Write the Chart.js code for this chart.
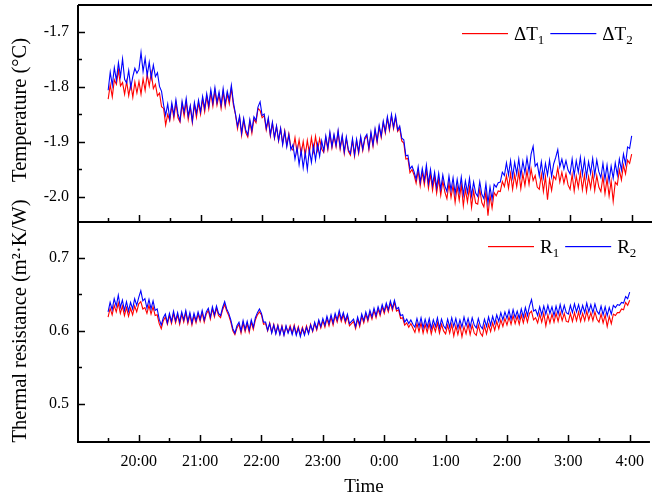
<!DOCTYPE html>
<html>
<head>
<meta charset="utf-8">
<script src="https://cdn.jsdelivr.net/npm/chart.js@4.4.1/dist/chart.umd.min.js"></script>
<style>
    html, body { margin: 0; padding: 0; background: #fff; overflow: hidden; }
    #wrap { position: relative; width: 654px; height: 501px; overflow: hidden; }
    #topBox { position: absolute; left: 0; top: -30px; width: 654px; height: 282px; }
    #botBox { position: absolute; left: 0; top: 180px; width: 654px; height: 321px; }
</style>
</head>
<body>
<div id="wrap">
    <div id="topBox"><canvas id="tempChart"></canvas></div>
    <div id="botBox"><canvas id="resChart"></canvas></div>
</div>
<script>
// Sampling: one reading every 2 minutes, starting 19:30
const startHour = 19.5;
const stepMinutes = 2;

// Time axis (hours, 24 = 0:00 of the next day)
const hourTicks = [20, 21, 22, 23, 24, 25, 26, 27, 28];
const hourLabels = ['20:00', '21:00', '22:00', '23:00', '0:00', '1:00', '2:00', '3:00', '4:00'];

const tempTicks = [-2.0, -1.9, -1.8, -1.7];
const tempLabels = ['-2.0', '-1.9', '-1.8', '-1.7'];
const resTicks = [0.5, 0.6, 0.7];
const resLabels = ['0.5', '0.6', '0.7'];

// ΔT1 (red), one row per half hour
const dT1 = [
    -1.822, -1.796, -1.818, -1.787, -1.795, -1.769, -1.798, -1.792, -1.813, -1.790, -1.816, -1.794, -1.819, -1.791, -1.811,
    -1.790, -1.813, -1.785, -1.806, -1.777, -1.798, -1.774, -1.803, -1.795, -1.816, -1.811, -1.836, -1.839, -1.869, -1.850,
    -1.861, -1.834, -1.857, -1.829, -1.856, -1.864, -1.831, -1.853, -1.827, -1.859, -1.836, -1.865, -1.832, -1.855, -1.829,
    -1.850, -1.822, -1.845, -1.817, -1.840, -1.811, -1.835, -1.807, -1.833, -1.814, -1.839, -1.809, -1.836, -1.813, -1.831,
    -1.802, -1.833, -1.850, -1.876, -1.855, -1.888, -1.860, -1.883, -1.891, -1.863, -1.884, -1.858, -1.865, -1.839, -1.843,
    -1.856, -1.852, -1.878, -1.859, -1.889, -1.866, -1.893, -1.872, -1.898, -1.876, -1.903, -1.880, -1.906, -1.885, -1.910,
    -1.915, -1.892, -1.919, -1.896, -1.922, -1.899, -1.925, -1.897, -1.920, -1.892, -1.917, -1.890, -1.915, -1.894, -1.913,
    -1.919, -1.892, -1.914, -1.885, -1.911, -1.889, -1.909, -1.882, -1.913, -1.891, -1.921, -1.894, -1.917, -1.924, -1.897,
    -1.926, -1.898, -1.921, -1.893, -1.916, -1.895, -1.889, -1.914, -1.885, -1.908, -1.879, -1.901, -1.873, -1.892, -1.865,
    -1.884, -1.857, -1.879, -1.853, -1.876, -1.855, -1.881, -1.875, -1.898, -1.902, -1.931, -1.930, -1.956, -1.950, -1.960,
    -1.975, -1.952, -1.980, -1.955, -1.978, -1.951, -1.984, -1.959, -1.988, -1.963, -1.993, -1.967, -1.997, -1.971, -1.991,
    -2.003, -1.975, -2.001, -1.979, -2.010, -1.981, -2.006, -1.978, -2.016, -1.986, -2.009, -1.982, -2.019, -1.989, -2.011,
    -2.013, -1.986, -2.010, -2.018, -1.991, -2.034, -1.997, -2.020, -1.992, -1.998, -1.989, -1.990, -1.972, -1.981, -1.961,
    -1.984, -1.957, -1.986, -1.959, -1.981, -1.954, -1.985, -1.958, -1.979, -1.952, -1.977, -1.949, -1.970, -1.961, -1.982,
    -1.986, -1.959, -1.990, -1.963, -2.005, -1.968, -1.988, -1.962, -1.968, -1.947, -1.973, -1.955, -1.975, -1.958, -1.978,
    -1.986, -1.959, -1.989, -1.962, -1.983, -1.956, -1.987, -1.960, -1.990, -1.963, -1.984, -1.957, -1.988, -1.961, -1.982,
    -1.990, -1.963, -1.994, -1.967, -1.998, -1.971, -2.008, -1.973, -1.978, -1.951, -1.969, -1.942, -1.958, -1.933, -1.939,
    -1.922
];

// ΔT2 (blue)
const dT2 = [
    -1.806, -1.773, -1.797, -1.765, -1.788, -1.756, -1.781, -1.749, -1.786, -1.793, -1.770, -1.801, -1.781, -1.766, -1.775,
    -1.768, -1.737, -1.772, -1.748, -1.779, -1.755, -1.784, -1.760, -1.781, -1.774, -1.799, -1.808, -1.833, -1.851, -1.831,
    -1.858, -1.829, -1.851, -1.823, -1.849, -1.861, -1.826, -1.846, -1.821, -1.853, -1.834, -1.862, -1.828, -1.848, -1.824,
    -1.845, -1.817, -1.839, -1.812, -1.834, -1.805, -1.829, -1.801, -1.828, -1.809, -1.833, -1.803, -1.831, -1.808, -1.824,
    -1.797, -1.828, -1.849, -1.871, -1.853, -1.884, -1.857, -1.878, -1.887, -1.859, -1.879, -1.854, -1.861, -1.836, -1.827,
    -1.852, -1.849, -1.875, -1.856, -1.887, -1.864, -1.892, -1.871, -1.897, -1.875, -1.905, -1.881, -1.909, -1.887, -1.914,
    -1.905, -1.931, -1.910, -1.941, -1.915, -1.947, -1.919, -1.950, -1.914, -1.937, -1.907, -1.933, -1.904, -1.926, -1.898,
    -1.916, -1.889, -1.911, -1.882, -1.908, -1.886, -1.906, -1.879, -1.910, -1.888, -1.918, -1.891, -1.914, -1.921, -1.894,
    -1.923, -1.895, -1.918, -1.890, -1.913, -1.892, -1.886, -1.911, -1.882, -1.905, -1.876, -1.898, -1.870, -1.889, -1.862,
    -1.881, -1.854, -1.876, -1.850, -1.873, -1.852, -1.878, -1.871, -1.893, -1.896, -1.925, -1.924, -1.949, -1.944, -1.954,
    -1.968, -1.945, -1.973, -1.948, -1.970, -1.942, -1.975, -1.950, -1.978, -1.955, -1.983, -1.957, -1.986, -1.960, -1.980,
    -1.990, -1.962, -1.988, -1.965, -1.994, -1.968, -1.991, -1.964, -1.996, -1.971, -1.992, -1.966, -1.998, -1.973, -1.993,
    -1.999, -1.972, -1.995, -2.003, -1.976, -2.011, -1.982, -2.004, -1.977, -1.982, -1.974, -1.973, -1.955, -1.961, -1.938,
    -1.960, -1.934, -1.964, -1.937, -1.958, -1.931, -1.962, -1.935, -1.956, -1.929, -1.954, -1.922, -1.908, -1.944, -1.939,
    -1.962, -1.936, -1.965, -1.939, -1.960, -1.933, -1.963, -1.940, -1.928, -1.914, -1.945, -1.931, -1.949, -1.934, -1.951,
    -1.958, -1.931, -1.961, -1.934, -1.955, -1.928, -1.959, -1.932, -1.963, -1.936, -1.957, -1.930, -1.960, -1.933, -1.954,
    -1.965, -1.939, -1.968, -1.942, -1.971, -1.944, -1.966, -1.938, -1.960, -1.931, -1.951, -1.922, -1.940, -1.909, -1.912,
    -1.889
];

// R1 (red)
const R1 = [
    0.619, 0.631, 0.622, 0.635, 0.626, 0.638, 0.624, 0.634, 0.621, 0.632, 0.620, 0.631, 0.622, 0.634, 0.626,
    0.637, 0.640, 0.630, 0.632, 0.624, 0.635, 0.623, 0.633, 0.621, 0.622, 0.610, 0.603, 0.614, 0.619, 0.609,
    0.621, 0.610, 0.624, 0.611, 0.622, 0.609, 0.623, 0.612, 0.625, 0.610, 0.622, 0.608, 0.621, 0.611, 0.623,
    0.613, 0.625, 0.612, 0.623, 0.628, 0.616, 0.630, 0.619, 0.631, 0.621, 0.618, 0.629, 0.636, 0.627, 0.621,
    0.612, 0.600, 0.595, 0.604, 0.609, 0.597, 0.611, 0.599, 0.610, 0.598, 0.612, 0.602, 0.615, 0.622, 0.626,
    0.622, 0.609, 0.610, 0.600, 0.611, 0.598, 0.609, 0.597, 0.608, 0.596, 0.607, 0.595, 0.606, 0.598, 0.607,
    0.597, 0.608, 0.596, 0.606, 0.595, 0.605, 0.596, 0.607, 0.597, 0.609, 0.599, 0.610, 0.601, 0.613, 0.604,
    0.614, 0.605, 0.617, 0.607, 0.619, 0.608, 0.621, 0.612, 0.624, 0.613, 0.622, 0.611, 0.620, 0.607, 0.610,
    0.613, 0.603, 0.616, 0.606, 0.620, 0.611, 0.623, 0.613, 0.625, 0.616, 0.628, 0.618, 0.630, 0.621, 0.633,
    0.624, 0.635, 0.626, 0.638, 0.628, 0.639, 0.627, 0.629, 0.617, 0.618, 0.608, 0.611, 0.605, 0.610, 0.604,
    0.598, 0.610, 0.599, 0.611, 0.597, 0.609, 0.598, 0.610, 0.596, 0.608, 0.599, 0.611, 0.597, 0.609, 0.600,
    0.596, 0.608, 0.597, 0.609, 0.593, 0.607, 0.595, 0.608, 0.592, 0.606, 0.596, 0.609, 0.595, 0.608, 0.597,
    0.594, 0.608, 0.597, 0.593, 0.607, 0.596, 0.609, 0.599, 0.611, 0.601, 0.613, 0.603, 0.615, 0.606, 0.617,
    0.608, 0.619, 0.609, 0.621, 0.610, 0.620, 0.609, 0.622, 0.611, 0.623, 0.612, 0.624, 0.627, 0.615, 0.618,
    0.611, 0.623, 0.612, 0.624, 0.607, 0.622, 0.611, 0.623, 0.612, 0.624, 0.613, 0.625, 0.614, 0.624, 0.613,
    0.612, 0.624, 0.613, 0.625, 0.614, 0.626, 0.613, 0.624, 0.614, 0.627, 0.615, 0.625, 0.614, 0.626, 0.616,
    0.612, 0.623, 0.611, 0.622, 0.606, 0.620, 0.610, 0.623, 0.621, 0.625, 0.625, 0.630, 0.629, 0.639, 0.635,
    0.642
];

// R2 (blue)
const R2 = [
    0.626, 0.639, 0.629, 0.644, 0.634, 0.649, 0.632, 0.642, 0.628, 0.640, 0.627, 0.639, 0.630, 0.644, 0.635,
    0.646, 0.655, 0.641, 0.644, 0.631, 0.643, 0.630, 0.641, 0.628, 0.630, 0.616, 0.608, 0.618, 0.623, 0.611,
    0.624, 0.613, 0.627, 0.614, 0.625, 0.612, 0.626, 0.615, 0.628, 0.613, 0.625, 0.611, 0.624, 0.614, 0.626,
    0.616, 0.628, 0.615, 0.626, 0.631, 0.619, 0.633, 0.622, 0.634, 0.624, 0.621, 0.632, 0.640, 0.630, 0.624,
    0.615, 0.603, 0.597, 0.607, 0.612, 0.600, 0.614, 0.602, 0.613, 0.601, 0.615, 0.605, 0.618, 0.625, 0.630,
    0.624, 0.612, 0.612, 0.601, 0.610, 0.597, 0.608, 0.596, 0.607, 0.595, 0.606, 0.594, 0.607, 0.597, 0.605,
    0.595, 0.606, 0.594, 0.604, 0.592, 0.603, 0.594, 0.605, 0.596, 0.608, 0.600, 0.612, 0.603, 0.615, 0.606,
    0.617, 0.608, 0.620, 0.610, 0.622, 0.611, 0.624, 0.615, 0.628, 0.616, 0.625, 0.614, 0.623, 0.610, 0.613,
    0.616, 0.606, 0.619, 0.609, 0.623, 0.614, 0.626, 0.616, 0.628, 0.619, 0.631, 0.621, 0.633, 0.624, 0.636,
    0.627, 0.638, 0.629, 0.641, 0.631, 0.642, 0.630, 0.632, 0.621, 0.622, 0.612, 0.616, 0.610, 0.615, 0.609,
    0.605, 0.617, 0.606, 0.618, 0.604, 0.616, 0.605, 0.617, 0.603, 0.615, 0.606, 0.618, 0.604, 0.616, 0.607,
    0.603, 0.616, 0.605, 0.618, 0.606, 0.617, 0.604, 0.615, 0.605, 0.619, 0.607, 0.617, 0.605, 0.618, 0.608,
    0.604, 0.617, 0.607, 0.603, 0.616, 0.606, 0.619, 0.608, 0.620, 0.610, 0.622, 0.613, 0.625, 0.615, 0.626,
    0.617, 0.628, 0.616, 0.629, 0.618, 0.627, 0.617, 0.630, 0.619, 0.632, 0.621, 0.634, 0.643, 0.627, 0.629,
    0.621, 0.633, 0.622, 0.634, 0.623, 0.635, 0.624, 0.633, 0.621, 0.634, 0.623, 0.636, 0.624, 0.635, 0.625,
    0.623, 0.635, 0.625, 0.637, 0.626, 0.636, 0.624, 0.635, 0.625, 0.638, 0.626, 0.636, 0.625, 0.637, 0.627,
    0.623, 0.634, 0.622, 0.633, 0.621, 0.632, 0.623, 0.635, 0.632, 0.636, 0.635, 0.639, 0.638, 0.647, 0.644,
    0.653
];

const RED = '#ff0000';
const BLUE = '#0000ff';
const FONT = '"Liberation Serif", "Times New Roman", serif';

Chart.defaults.font.family = FONT;
Chart.defaults.color = '#000';

// Pair the readings with their time stamps
function toPoints(values) {
    return values.map((v, i) => ({ x: startHour + i * stepMinutes / 60, y: v }));
}

// Frame, inward ticks, y title and legend, drawn on top of the plot
function makeFramePlugin(cfg) {
    return {
        id: 'frame',
        afterDraw(chart) {
            const { ctx, chartArea: a, scales } = chart;
            ctx.save();
            ctx.strokeStyle = '#000';
            ctx.lineWidth = 2;
            ctx.beginPath();
            ctx.moveTo(a.left, a.top);
            ctx.lineTo(a.left, a.bottom);
            ctx.lineTo(a.right, a.bottom);
            if (cfg.topLine) {
                ctx.moveTo(a.left, a.top);
                ctx.lineTo(a.right, a.top);
            }
            ctx.stroke();

            // inward ticks, minor ones at the half steps
            ctx.lineWidth = 1.5;
            ctx.beginPath();
            hourTicks.forEach(h => {
                const x = Math.round(scales.x.getPixelForValue(h)) + 0.5;
                ctx.moveTo(x, a.bottom);
                ctx.lineTo(x, a.bottom - 7);
                const xm = Math.round(scales.x.getPixelForValue(h - 0.5)) + 0.5;
                ctx.moveTo(xm, a.bottom);
                ctx.lineTo(xm, a.bottom - 4);
            });
            const y = scales.y;
            cfg.yTicks.forEach(v => {
                const py = Math.round(y.getPixelForValue(v)) + 0.5;
                ctx.moveTo(a.left, py);
                ctx.lineTo(a.left + 7, py);
                const minor = v + cfg.yStep / 2;
                if (minor < y.max) {
                    const pm = Math.round(y.getPixelForValue(minor)) + 0.5;
                    ctx.moveTo(a.left, pm);
                    ctx.lineTo(a.left + 4, pm);
                }
            });
            ctx.stroke();

            // rotated y title
            ctx.fillStyle = '#000';
            ctx.font = '20.5px ' + FONT;
            ctx.textAlign = 'center';
            ctx.textBaseline = 'middle';
            ctx.save();
            ctx.translate(cfg.title.x, cfg.title.y);
            ctx.rotate(-Math.PI / 2);
            ctx.fillText(cfg.title.text, 0, 0);
            ctx.restore();

            // legend: line sample, name, subscript
            ctx.textAlign = 'left';
            ctx.textBaseline = 'alphabetic';
            let lx = cfg.legend.x;
            const ly = cfg.legend.y;
            cfg.legend.items.forEach(item => {
                ctx.fillStyle = item.color;
                ctx.fillRect(lx, ly, 46, 1.2);
                lx += 52;
                ctx.fillStyle = '#000';
                ctx.font = '19px ' + FONT;
                ctx.fillText(item.name, lx, ly + 7);
                lx += ctx.measureText(item.name).width;
                ctx.font = '13px ' + FONT;
                ctx.fillText(item.sub, lx, ly + 11);
                lx += ctx.measureText(item.sub).width + 6;
            });
            ctx.restore();
        }
    };
}

function xScale(show) {
    return {
        type: 'linear',
        display: show,
        min: 19.01,
        max: 28.33,
        afterBuildTicks(scale) {
            scale.ticks = hourTicks.map(v => ({ value: v }));
        },
        afterFit(scale) {
            if (show) scale.height = 59;
        },
        ticks: {
            autoSkip: false,
            maxRotation: 0,
            padding: 10,
            font: { size: 16 },
            callback: (v, i) => hourLabels[i]
        },
        grid: { display: false, drawTicks: false },
        border: { display: false },
        title: {
            display: show,
            text: 'Time',
            font: { size: 19 },
            padding: { top: 0, bottom: 3 }
        }
    };
}

function yScale(min, max, ticks, labels) {
    return {
        min: min,
        max: max,
        afterBuildTicks(scale) {
            scale.ticks = ticks.map(v => ({ value: v }));
        },
        afterFit(scale) {
            scale.width = 78;
        },
        ticks: {
            padding: 9,
            font: { size: 16 },
            callback: (v, i) => labels[i]
        },
        grid: { display: false, drawTicks: false },
        border: { display: false },
        title: { display: false }
    };
}

function lineSet(values, color, order) {
    return {
        data: toPoints(values),
        borderColor: color,
        borderWidth: 1.1,
        pointRadius: 0,
        tension: 0,
        order: order
    };
}

// Upper panel: temperature differences
new Chart(document.getElementById('tempChart'), {
    type: 'line',
    data: { datasets: [lineSet(dT2, BLUE, 1), lineSet(dT1, RED, 2)] },
    options: {
        responsive: true,
        maintainAspectRatio: false,
        animation: false,
        layout: { padding: { top: 35, right: 2, bottom: 30, left: 0 } },
        scales: {
            x: xScale(false),
            y: yScale(-2.0455, -1.6509, tempTicks, tempLabels)
        },
        plugins: { legend: { display: false }, tooltip: { enabled: false } }
    },
    plugins: [makeFramePlugin({
        topLine: true,
        yTicks: tempTicks,
        yStep: 0.1,
        title: { text: 'Temperature (°C)', x: 21, y: 140 },
        legend: {
            x: 462, y: 63,
            items: [
                { color: RED, name: 'ΔT', sub: '1' },
                { color: BLUE, name: 'ΔT', sub: '2' }
            ]
        }
    })]
});

// Lower panel: thermal resistances
new Chart(document.getElementById('resChart'), {
    type: 'line',
    data: { datasets: [lineSet(R2, BLUE, 1), lineSet(R1, RED, 2)] },
    options: {
        responsive: true,
        maintainAspectRatio: false,
        animation: false,
        layout: { padding: { top: 42, right: 2, bottom: 0, left: 0 } },
        scales: {
            x: xScale(true),
            y: yScale(0.448, 0.749, resTicks, resLabels)
        },
        plugins: { legend: { display: false }, tooltip: { enabled: false } }
    },
    plugins: [makeFramePlugin({
        topLine: false,
        yTicks: resTicks,
        yStep: 0.1,
        title: { text: 'Thermal resistance (m²·K/W)', x: 21, y: 141 },
        legend: {
            x: 488, y: 66,
            items: [
                { color: RED, name: 'R', sub: '1' },
                { color: BLUE, name: 'R', sub: '2' }
            ]
        }
    })]
});
</script>
</body>
</html>
